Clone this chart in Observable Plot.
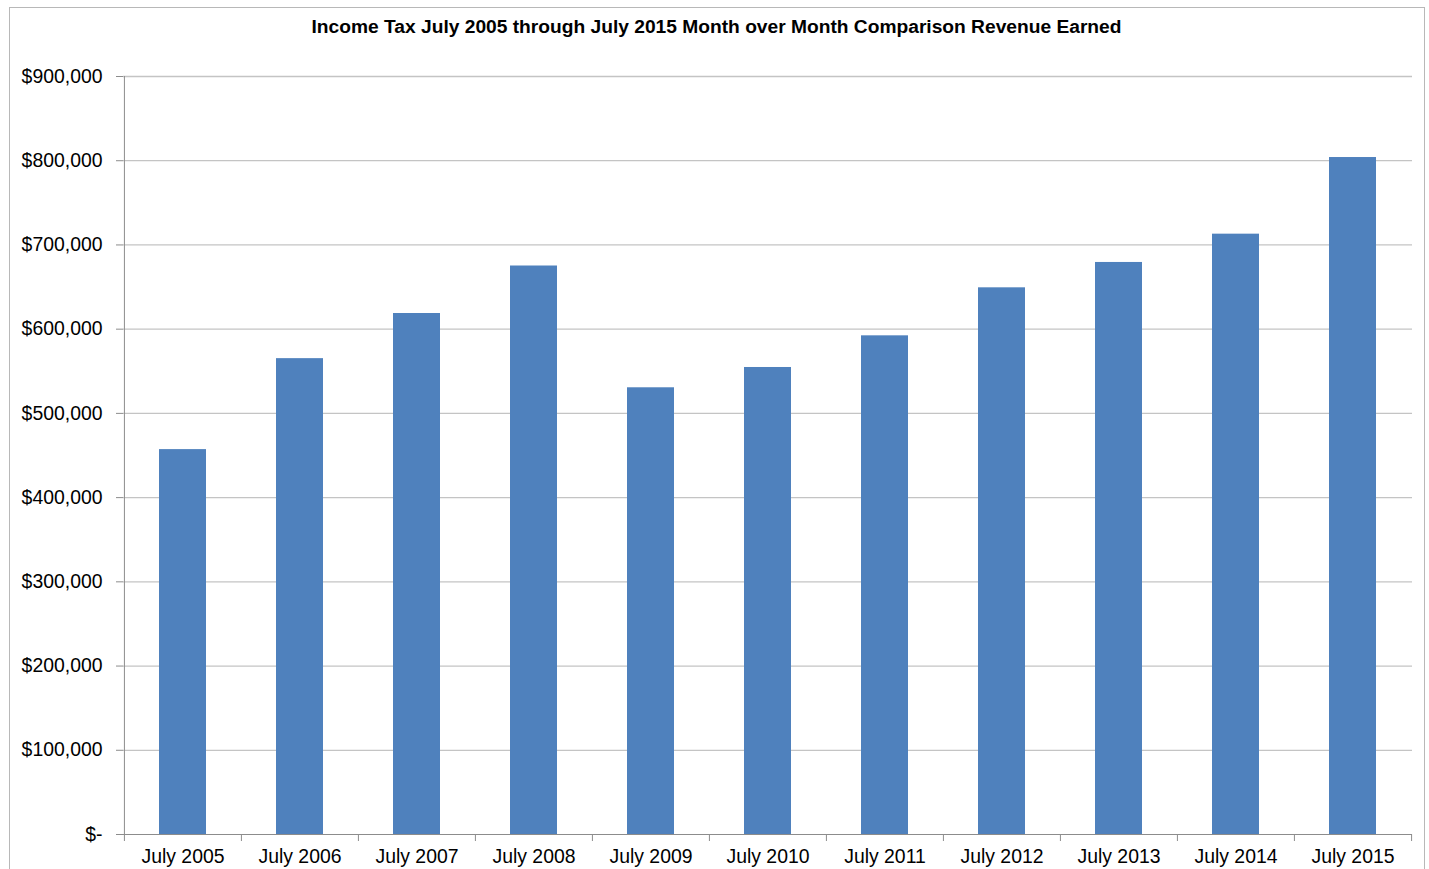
<!DOCTYPE html>
<html>
<head>
<meta charset="utf-8">
<script src="https://cdn.jsdelivr.net/npm/d3@7"></script>
<script src="https://cdn.jsdelivr.net/npm/@observablehq/plot@0.6"></script>
<style>
  html, body { margin: 0; padding: 0; background: #fff; }
  body { width: 1429px; height: 869px; position: relative; overflow: hidden; font-family: "Liberation Sans", Arial, sans-serif; }
  #frame { position: absolute; left: 9px; top: 7px; width: 1416px; height: 880px; border: 1px solid #b8b8b8; box-sizing: border-box; }
  #title { position: absolute; left: 9px; top: 16px; width: 1415px; text-align: center; font-weight: bold; font-size: 19.2px; color: #000; }
  #chart { position: absolute; left: 0; top: 0; }
</style>
</head>
<body>
<div id="frame"></div>
<div id="title">Income Tax July 2005 through July 2015 Month over Month Comparison Revenue Earned</div>
<div id="chart"></div>
<script>
const categories = ["July 2005","July 2006","July 2007","July 2008","July 2009","July 2010","July 2011","July 2012","July 2013","July 2014","July 2015"];
const revenue = [457000, 565000, 618600, 675000, 530400, 554500, 592100, 649100, 679200, 712800, 803800];
const yTicks = [0, 100000, 200000, 300000, 400000, 500000, 600000, 700000, 800000, 900000];

const data = categories.map((c, i) => ({month: c, value: revenue[i]}));

const W = 1429, H = 869;
const mL = 123, mR = 17, mT = 76, mB = 35;
const step = (W - mL - mR) / categories.length;

const fmt = v => v === 0 ? "$-" : "$" + d3.format(",")(v);

const chart = Plot.plot({
  width: W,
  height: H,
  marginLeft: mL,
  marginRight: mR,
  marginTop: mT,
  marginBottom: mB,
  style: { fontFamily: "'Liberation Sans', Arial, sans-serif", fontSize: "19.4px", color: "#000", background: "transparent", overflow: "visible" },
  x: { domain: categories, paddingInner: 0.6, paddingOuter: 0.3, label: null },
  y: { domain: [0, 900000], label: null },
  marks: [
    Plot.ruleY(yTicks.filter(d => d > 0), { stroke: "#c4c4c4", strokeWidth: 1.3, strokeOpacity: 1 }),
    Plot.barY(data, { x: "month", y: "value", fill: "#4f81bd" }),
    Plot.ruleX([0], { x: () => categories[0], dx: -step / 2, y1: 0, y2: 900000, stroke: "#8c8c8c" }),
    Plot.ruleY([0], { stroke: "#8c8c8c" }),
    Plot.ruleX(categories, { x: d => d, dx: -step / 2, y1: 0, y2: 0, insetBottom: -7, stroke: "#8c8c8c" }),
    Plot.ruleX([categories[categories.length - 1]], { x: d => d, dx: step / 2, y1: 0, y2: 0, insetBottom: -7, stroke: "#8c8c8c" }),
    Plot.axisY({ ticks: yTicks, tickFormat: fmt, tickSize: 7, tickPadding: 14, stroke: "#8c8c8c", fill: "#000", fontSize: "19.4px" }),
    Plot.axisX({ tickSize: 0, tickPadding: 15, fill: "#000", fontSize: "19.4px" })
  ]
});
document.getElementById("chart").appendChild(chart);
</script>
</body>
</html>
